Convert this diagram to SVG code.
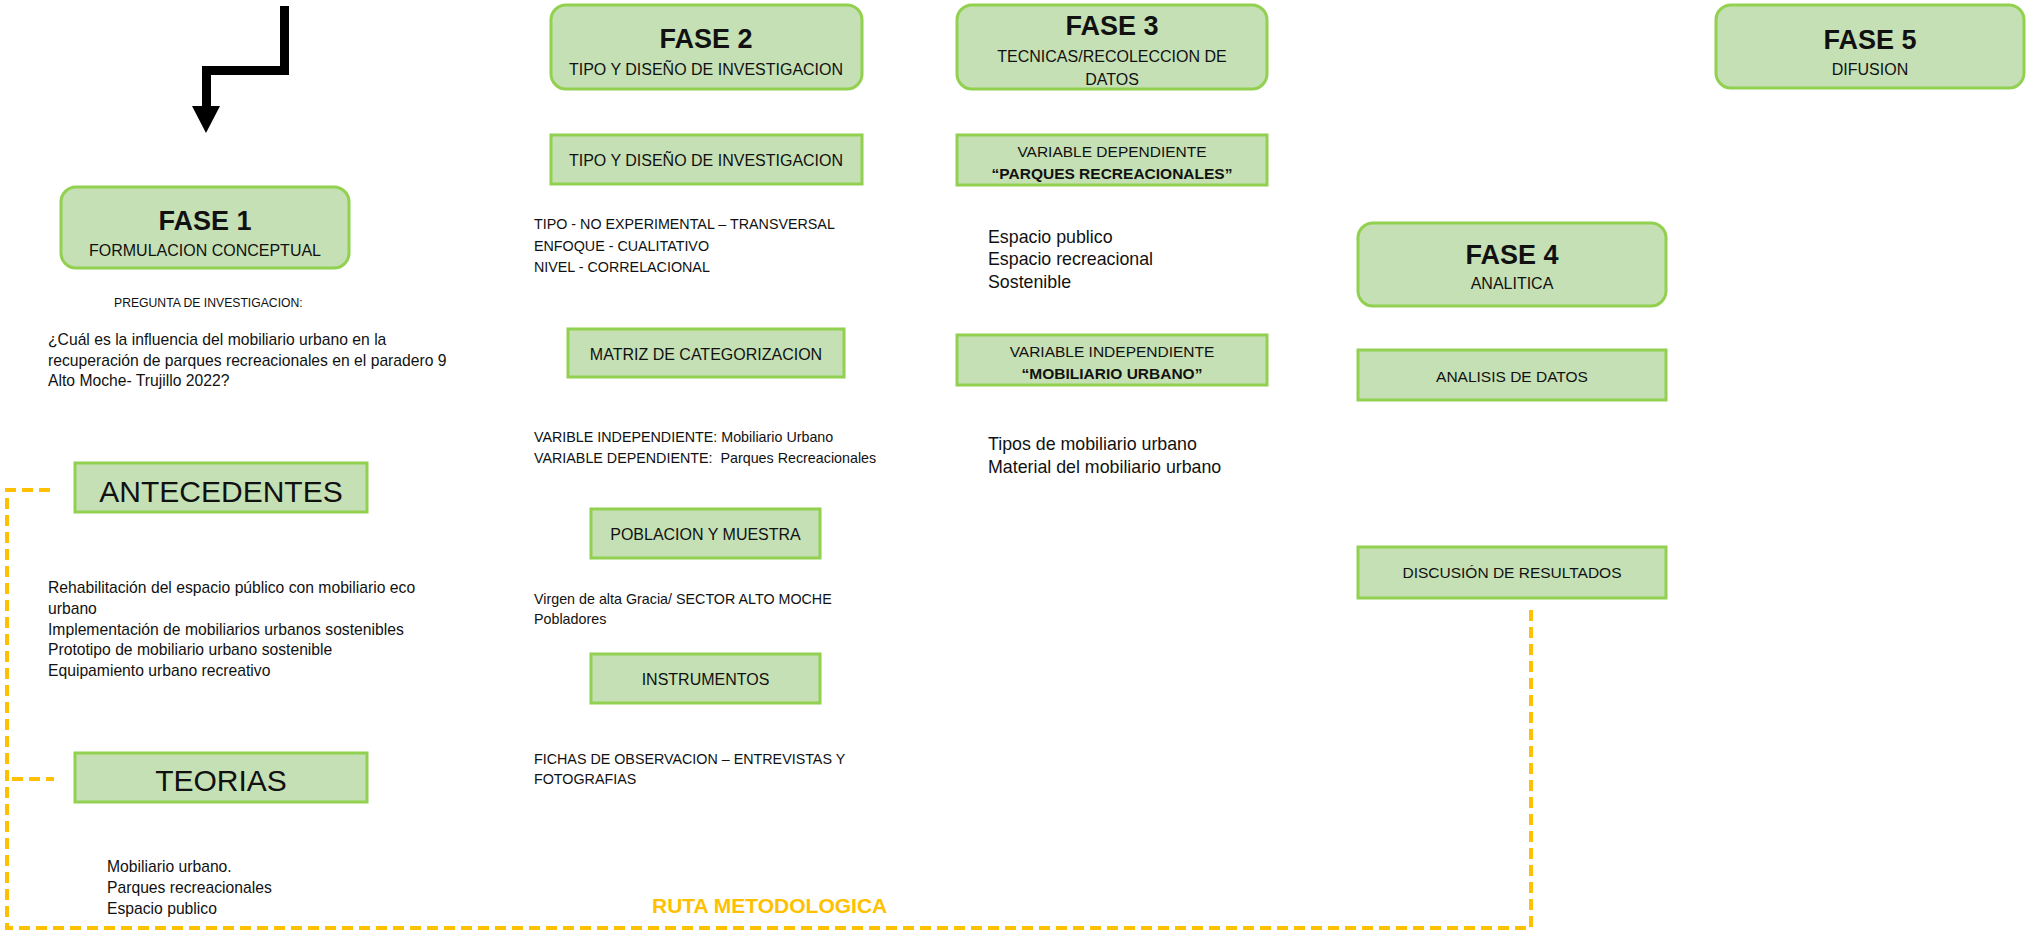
<svg xmlns="http://www.w3.org/2000/svg" width="2034" height="930" viewBox="0 0 2034 930">
<style>
text{font-family:"Liberation Sans",Arial,sans-serif;fill:#111;}
.ph{fill:#c5e0b4;stroke:#92d050;stroke-width:3;}
.bx{fill:#c5e0b4;stroke:#92d050;stroke-width:3;}
.t{font-size:27px;font-weight:bold;text-anchor:middle;}
.s{font-size:16px;text-anchor:middle;}
.l{font-size:15.5px;text-anchor:middle;}
.b{font-size:15.5px;font-weight:bold;text-anchor:middle;}
.big{font-size:30px;text-anchor:middle;}
.c2{font-size:14.3px;white-space:pre;}
.c1{font-size:15.7px;}
.c3{font-size:17.8px;}
.dash{fill:none;stroke:#ffc000;stroke-width:4;stroke-dasharray:11 6;}
</style>
<rect width="2034" height="930" fill="#fff"/>
<g id="connectors">
<path d="M280,6 H289 V75 H211 V106 H220 L206,133 L192,106 H202 V66 H280 Z" fill="#000"/>
<path class="dash" d="M50,490 H7 V928 H1531 V607"/>
<path class="dash" d="M12,779 H54"/>
</g>
<g id="fase1">
<rect class="ph" x="61" y="187" width="288" height="81" rx="15"/>
<text class="t" x="205" y="230">FASE 1</text>
<text class="s" x="205" y="256">FORMULACION CONCEPTUAL</text>
</g>
<g id="pregunta">
<text x="114" y="307" font-size="12.2">PREGUNTA DE INVESTIGACION:</text>
<text class="c1" x="48" y="345">¿Cuál es la influencia del mobiliario urbano en la</text>
<text class="c1" x="48" y="366">recuperación de parques recreacionales en el paradero 9</text>
<text class="c1" x="48" y="386">Alto Moche- Trujillo 2022?</text>
</g>
<g id="antecedentes">
<rect class="bx" x="75" y="463" width="292" height="49"/>
<text class="big" x="221" y="502">ANTECEDENTES</text>
</g>
<g id="antecedentes-texto">
<text class="c1" x="48" y="593">Rehabilitación del espacio público con mobiliario eco</text>
<text class="c1" x="48" y="614">urbano</text>
<text class="c1" x="48" y="635">Implementación de mobiliarios urbanos sostenibles</text>
<text class="c1" x="48" y="655">Prototipo de mobiliario urbano sostenible</text>
<text class="c1" x="48" y="676">Equipamiento urbano recreativo</text>
</g>
<g id="teorias">
<rect class="bx" x="75" y="753" width="292" height="49"/>
<text class="big" x="221" y="791">TEORIAS</text>
</g>
<g id="teorias-texto">
<text class="c1" x="107" y="872">Mobiliario urbano.</text>
<text class="c1" x="107" y="893">Parques recreacionales</text>
<text class="c1" x="107" y="914">Espacio publico</text>
</g>
<g id="fase2">
<rect class="ph" x="551" y="5" width="311" height="84" rx="15"/>
<text class="t" x="706" y="48">FASE 2</text>
<text class="s" x="706" y="75">TIPO Y DISEÑO DE INVESTIGACION</text>
</g>
<g id="tipo-diseno">
<rect class="bx" x="551" y="135" width="311" height="49"/>
<text class="s" x="706" y="166">TIPO Y DISEÑO DE INVESTIGACION</text>
</g>
<g id="tipo-texto">
<text class="c2" x="534" y="229">TIPO - NO EXPERIMENTAL – TRANSVERSAL</text>
<text class="c2" x="534" y="251">ENFOQUE - CUALITATIVO</text>
<text class="c2" x="534" y="272">NIVEL - CORRELACIONAL</text>
</g>
<g id="matriz">
<rect class="bx" x="568" y="329" width="276" height="48"/>
<text class="s" x="706" y="360">MATRIZ DE CATEGORIZACION</text>
</g>
<g id="matriz-texto">
<text class="c2" x="534" y="442">VARIBLE INDEPENDIENTE: Mobiliario Urbano</text>
<text class="c2" x="534" y="463">VARIABLE DEPENDIENTE:  Parques Recreacionales</text>
</g>
<g id="poblacion">
<rect class="bx" x="591" y="509" width="229" height="49"/>
<text class="s" x="705.5" y="540">POBLACION Y MUESTRA</text>
</g>
<g id="poblacion-texto">
<text class="c2" x="534" y="604">Virgen de alta Gracia/ SECTOR ALTO MOCHE</text>
<text class="c2" x="534" y="624">Pobladores</text>
</g>
<g id="instrumentos">
<rect class="bx" x="591" y="654" width="229" height="49"/>
<text class="s" x="705.5" y="685">INSTRUMENTOS</text>
</g>
<g id="instrumentos-texto">
<text class="c2" x="534" y="764">FICHAS DE OBSERVACION – ENTREVISTAS Y</text>
<text class="c2" x="534" y="784">FOTOGRAFIAS</text>
</g>
<g id="fase3">
<rect class="ph" x="957" y="5" width="310" height="84" rx="15"/>
<text class="t" x="1112" y="35">FASE 3</text>
<text class="s" x="1112" y="62">TECNICAS/RECOLECCION DE</text>
<text class="s" x="1112" y="85">DATOS</text>
</g>
<g id="var-dependiente">
<rect class="bx" x="957" y="135" width="310" height="50"/>
<text class="l" x="1112" y="157">VARIABLE DEPENDIENTE</text>
<text class="b" x="1112" y="179">“PARQUES RECREACIONALES”</text>
</g>
<g id="var-dependiente-texto">
<text class="c3" x="988" y="243">Espacio publico</text>
<text class="c3" x="988" y="265">Espacio recreacional</text>
<text class="c3" x="988" y="288">Sostenible</text>
</g>
<g id="var-independiente">
<rect class="bx" x="957" y="335" width="310" height="50"/>
<text class="l" x="1112" y="357">VARIABLE INDEPENDIENTE</text>
<text class="b" x="1112" y="379">“MOBILIARIO URBANO”</text>
</g>
<g id="var-independiente-texto">
<text class="c3" x="988" y="450">Tipos de mobiliario urbano</text>
<text class="c3" x="988" y="473">Material del mobiliario urbano</text>
</g>
<g id="fase4">
<rect class="ph" x="1358" y="223" width="308" height="83" rx="15"/>
<text class="t" x="1512" y="264">FASE 4</text>
<text class="s" x="1512" y="289">ANALITICA</text>
</g>
<g id="analisis">
<rect class="bx" x="1358" y="350" width="308" height="50"/>
<text class="l" x="1512" y="382">ANALISIS DE DATOS</text>
</g>
<g id="discusion">
<rect class="bx" x="1358" y="547" width="308" height="51"/>
<text class="l" x="1512" y="578">DISCUSIÓN DE RESULTADOS</text>
</g>
<g id="fase5">
<rect class="ph" x="1716" y="5" width="308" height="83" rx="15"/>
<text class="t" x="1870" y="49">FASE 5</text>
<text class="s" x="1870" y="75">DIFUSION</text>
</g>
<g id="ruta">
<text x="652" y="913" font-size="21" font-weight="bold" style="fill:#ffc000">RUTA METODOLOGICA</text>
</g>
</svg>
